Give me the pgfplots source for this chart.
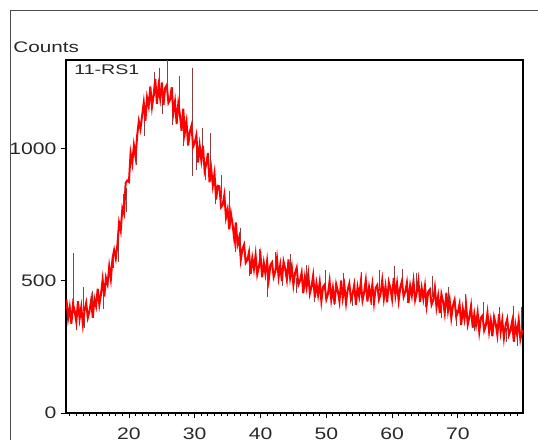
\documentclass[border=0pt]{standalone}
\usepackage{pgfplots}
\pgfplotsset{compat=1.18}
\usepackage{fontspec}
\setmainfont{Liberation Sans}
\definecolor{spike}{RGB}{140,62,62}
\definecolor{txt}{RGB}{40,40,40}

\begin{document}
\begin{tikzpicture}
\useasboundingbox (-49.5pt,-19.5pt) rectangle (354pt,309.75pt);
\clip (-49.5pt,-19.5pt) rectangle (354pt,309.75pt);
% outer frame of the screenshot
\draw[gray!60!black, line width=0.6pt] (-42pt,-20pt) -- (-42pt,302.25pt) -- (355pt,302.25pt);
\begin{axis}[
  at={(0,0)}, anchor=south west,
  scale only axis, width=342.75pt, height=264.75pt,
  xmin=10.43, xmax=79.9, ymin=0, ymax=1336,
  xtick={20,30,...,70}, minor xtick={11,12,...,79},
  ytick={0,500,1000},
  xtick pos=bottom, ytick pos=left,
  tick align=outside,
  major tick length=4pt, minor tick length=2.3pt,
  every tick/.style={black, line width=0.6pt},
  axis line style={line width=1.3pt},
  /pgf/number format/assume math mode=true,
  /pgf/number format/1000 sep={},
  tick label style={font=\fontsize{12.5}{14}\selectfont, text=txt, xscale=1.27},
  xticklabel style={yshift=-3.5pt},
  yticklabel style={xshift=1pt},
  clip=true,
]
% dark spikes
\addplot[spike, line width=0.6pt, unbounded coords=jump] coordinates {
(11.5,380) (11.5,605) (nan,nan)
(12.0,372) (12.0,315) (nan,nan)
(13.0,385) (13.0,475) (nan,nan)
(13.3,360) (13.3,320) (nan,nan)
(14.4,400) (14.4,460) (nan,nan)
(16.1,460) (16.1,395) (nan,nan)
(17.6,550) (17.6,610) (nan,nan)
(18.4,660) (18.4,570) (nan,nan)
(19.2,760) (19.2,830) (nan,nan)
(19.6,850) (19.6,760) (nan,nan)
(21.2,1010) (21.2,940) (nan,nan)
(22.3,1130) (22.3,1050) (nan,nan)
(23.8,1200) (23.8,1290) (nan,nan)
(24.6,1220) (24.6,1305) (nan,nan)
(25.1,1210) (25.1,1130) (nan,nan)
(25.9,1210) (25.9,1336) (nan,nan)
(26.6,1180) (26.6,1090) (nan,nan)
(27.7,1140) (27.7,1275) (nan,nan)
(28.3,1100) (28.3,1010) (nan,nan)
(29.6,898) (29.6,1305) (nan,nan)
(30.3,1020) (30.3,920) (nan,nan)
(31.1,980) (31.1,1080) (nan,nan)
(31.6,950) (31.6,880) (nan,nan)
(32.4,910) (32.4,1060) (nan,nan)
(33.1,860) (33.1,790) (nan,nan)
(34.0,810) (34.0,900) (nan,nan)
(35.3,700) (35.3,840) (nan,nan)
(36.2,690) (36.2,610) (nan,nan)
(37.0,630) (37.0,700) (nan,nan)
(38.3,580) (38.3,520) (nan,nan)
(39.8,550) (39.8,620) (nan,nan)
(41.0,545) (41.0,440) (nan,nan)
(42.2,545) (42.2,610) (nan,nan)
(43.4,545) (43.4,480) (nan,nan)
(44.6,530) (44.6,600) (nan,nan)
(45.5,510) (45.5,455) (nan,nan)
(47.0,485) (47.0,560) (nan,nan)
(48.2,470) (48.2,420) (nan,nan)
(49.9,460) (49.9,540) (nan,nan)
(51.2,458) (51.2,410) (nan,nan)
(52.6,456) (52.6,530) (nan,nan)
(54.0,455) (54.0,405) (nan,nan)
(55.4,456) (55.4,535) (nan,nan)
(56.8,456) (56.8,410) (nan,nan)
(58.1,460) (58.1,540) (nan,nan)
(59.3,465) (59.3,420) (nan,nan)
(60.3,466) (60.3,555) (nan,nan)
(61.6,466) (61.6,545) (nan,nan)
(62.4,464) (62.4,415) (nan,nan)
(63.7,458) (63.7,530) (nan,nan)
(65.0,450) (65.0,400) (nan,nan)
(66.1,440) (66.1,520) (nan,nan)
(67.5,410) (67.5,360) (nan,nan)
(68.6,400) (68.6,475) (nan,nan)
(69.8,390) (69.8,330) (nan,nan)
(71.2,365) (71.2,450) (nan,nan)
(72.5,355) (72.5,310) (nan,nan)
(73.9,345) (73.9,420) (nan,nan)
(75.1,338) (75.1,290) (nan,nan)
(76.3,330) (76.3,400) (nan,nan)
(77.4,322) (77.4,270) (nan,nan)
(78.4,318) (78.4,405) (nan,nan)
(79.0,312) (79.0,255) (nan,nan)
(79.6,308) (79.6,400) (nan,nan)
};
% measured pattern
\addplot[red, line width=1.5pt] coordinates {
(10.4,395) (10.5,430) (10.75,358) (11.0,400) (11.25,338) (11.5,412) (11.75,386) (12.0,345)
(12.25,423) (12.5,357) (12.75,401) (13.0,335) (13.25,388) (13.5,417) (13.75,361) (14.0,385)
(14.25,427) (14.5,360) (14.75,432) (15.0,405) (15.25,470) (15.5,410) (15.75,450) (16.0,505)
(16.25,441) (16.5,512) (16.75,488) (17.0,555) (17.25,507) (17.5,585) (17.75,617) (18.0,585)
(18.25,638) (18.5,720) (18.75,690) (19.0,775) (19.25,755) (19.5,870) (19.75,880) (20.0,875)
(20.25,983) (20.5,945) (20.75,1013) (21.0,970) (21.25,1050) (21.5,1105) (21.75,1075) (22.0,1125)
(22.25,1175) (22.5,1106) (22.75,1194) (23.0,1162) (23.25,1236) (23.5,1159) (23.75,1203) (24.0,1264)
(24.25,1170) (24.5,1237) (24.75,1190) (25.0,1251) (25.25,1166) (25.5,1230) (25.75,1241) (26.0,1174)
(26.25,1186) (26.5,1233) (26.75,1136) (27.0,1178) (27.25,1094) (27.5,1171) (27.75,1128) (28.0,1068)
(28.25,1152) (28.5,1061) (28.75,1102) (29.0,1012) (29.25,1064) (29.5,1087) (29.75,1008) (30.0,1024)
(30.25,1052) (30.5,948) (30.75,1012) (31.0,957) (31.25,1012) (31.5,916) (31.75,941) (32.0,984)
(32.25,873) (32.5,924) (32.75,861) (33.0,906) (33.25,808) (33.5,860) (33.75,858) (34.0,779)
(34.25,788) (34.5,825) (34.75,740) (35.0,770) (35.25,695) (35.5,755) (35.75,715) (36.0,660)
(36.25,721) (36.5,638) (36.75,664) (37.0,580) (37.25,621) (37.5,637) (37.75,569) (38.0,580)
(38.25,609) (38.5,527) (38.75,586) (39.0,545) (39.25,598) (39.5,525) (39.75,553) (40.0,595)
(40.25,514) (40.5,568) (40.75,526) (41.0,575) (41.25,505) (41.5,560) (41.75,570) (42.0,515)
(42.25,535) (42.5,585) (42.75,515) (43.0,560) (43.25,499) (43.5,573) (43.75,546) (44.0,505)
(44.25,581) (44.5,512) (44.75,553) (45.0,485) (45.25,530) (45.5,550) (45.75,485) (46.0,500)
(46.25,531) (46.5,453) (46.75,514) (47.0,475) (47.25,526) (47.5,452) (47.75,478) (48.0,520)
(48.25,437) (48.5,490) (48.75,447) (49.0,495) (49.25,423) (49.5,477) (49.75,486) (50.0,430)
(50.25,450) (50.5,499) (50.75,429) (51.0,473) (51.25,413) (51.5,487) (51.75,462) (52.0,422)
(52.25,502) (52.5,436) (52.75,481) (53.0,416) (53.25,466) (53.5,490) (53.75,430) (54.0,450)
(54.25,485) (54.5,410) (54.75,476) (55.0,441) (55.25,496) (55.5,426) (55.75,457) (56.0,502)
(56.25,422) (56.5,476) (56.75,436) (57.0,486) (57.25,417) (57.5,473) (57.75,484) (58.0,430)
(58.25,451) (58.5,502) (58.75,433) (59.0,479) (59.25,419) (59.5,495) (59.75,470) (60.0,431)
(60.25,511) (60.5,446) (60.75,491) (61.0,426) (61.25,476) (61.5,500) (61.75,440) (62.0,459)
(62.25,493) (62.5,417) (62.75,481) (63.0,445) (63.25,499) (63.5,428) (63.75,457) (64.0,501)
(64.25,420) (64.5,473) (64.75,432) (65.0,480) (65.25,408) (65.5,460) (65.75,468) (66.0,410)
(66.25,427) (66.5,474) (66.75,400) (67.0,442) (67.25,378) (67.5,450) (67.75,422) (68.0,378)
(68.25,455) (68.5,387) (68.75,428) (69.0,360) (69.25,407) (69.5,428) (69.75,365) (70.0,381)
(70.25,412) (70.5,333) (70.75,394) (71.0,355) (71.25,408) (71.5,335) (71.75,363) (72.0,405)
(72.25,323) (72.5,375) (72.75,333) (73.0,380) (73.25,308) (73.5,361) (73.75,369) (74.0,312)
(74.25,331) (74.5,379) (74.75,308) (75.0,351) (75.25,290) (75.5,363) (75.75,337) (76.0,295)
(76.25,374) (76.5,307) (76.75,351) (77.0,284) (77.25,333) (77.5,356) (77.75,295) (78.0,313)
(78.25,347) (78.5,270) (78.75,334) (79.0,297) (79.25,351) (79.5,279) (79.75,308) (80.0,314)
};
\end{axis}
\node[anchor=base west, text=txt, font=\fontsize{11.5}{13}\selectfont, xscale=1.35, inner sep=0pt] at (-39.75pt,270pt) {Counts};
\node[anchor=base west, text=txt, font=\fontsize{10.5}{12}\selectfont, xscale=1.4, inner sep=0pt] at (6pt,253.5pt) {11-RS1};
\end{tikzpicture}
\end{document}
